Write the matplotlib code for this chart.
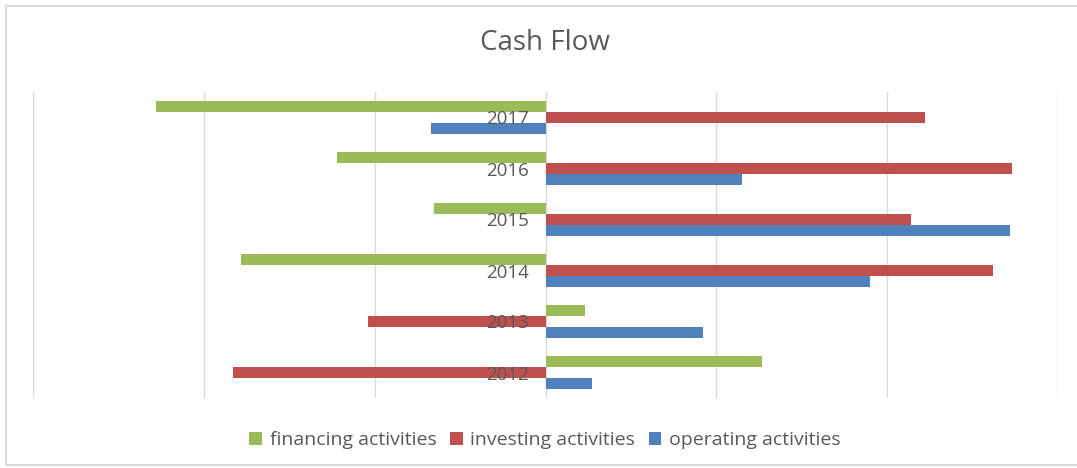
import numpy as np
import matplotlib.pyplot as plt
from matplotlib.patches import Rectangle

years = ['2012', '2013', '2014', '2015', '2016', '2017']
financing = [1.27, 0.23, -1.78, -0.65, -1.22, -2.28]
investing = [-1.83, -1.04, 2.62, 2.14, 2.73, 2.22]
operating = [0.27, 0.92, 1.90, 2.72, 1.15, -0.67]

green = '#9BBB59'
red = '#C0504D'
blue = '#4F81BD'
grey = '#595959'

plt.rcParams['font.family'] = ['Open Sans', 'DejaVu Sans']

fig = plt.figure(figsize=(10.77, 4.68), dpi=100)
# light border around the chart area
fig.patches.append(Rectangle((6 / 1077, 3 / 468), 1.0, 1 - 9 / 468, transform=fig.transFigure,
                             fill=False, edgecolor='#D9D9D9', linewidth=1.5))
ax = fig.add_axes([33 / 1077, 1 - 398 / 468, (1058 - 33) / 1077, (398 - 92) / 468])

y = np.arange(len(years))
h = 0.215
ax.barh(y + h, financing, height=h, color=green, label='financing activities', zorder=2)
ax.barh(y, investing, height=h, color=red, label='investing activities', zorder=2)
ax.barh(y - h, operating, height=h, color=blue, label='operating activities', zorder=2)

ax.set_xlim(-3, 3)
ax.set_ylim(-0.5, 5.5)
ax.set_xticks(np.arange(-3, 4, 1))
ax.set_xticklabels([])
ax.tick_params(axis='x', length=0)
ax.grid(axis='x', color='#D9D9D9', linewidth=1, zorder=0)
ax.set_axisbelow(True)

# year labels sit at the zero line, over the bars
ax.set_yticks(y)
ax.set_yticklabels(years)
ax.spines['left'].set_position(('data', 0))
ax.tick_params(axis='y', length=0, pad=12, labelcolor=grey, labelsize=13.5)
ax.yaxis.set_zorder(5)
for s in ['top', 'right', 'bottom', 'left']:
    ax.spines[s].set_visible(False)

fig.text(0.506, 1 - 43 / 468, 'Cash Flow', ha='center', va='center', fontsize=20, color=grey)
leg = fig.legend(loc='center', bbox_to_anchor=(0.506, 1 - 440 / 468), ncol=3, frameon=False,
                 fontsize=14, handlelength=0.65, handleheight=0.65, handletextpad=0.4,
                 columnspacing=0.7, labelcolor=grey)

fig.savefig('out.png', dpi=100)
